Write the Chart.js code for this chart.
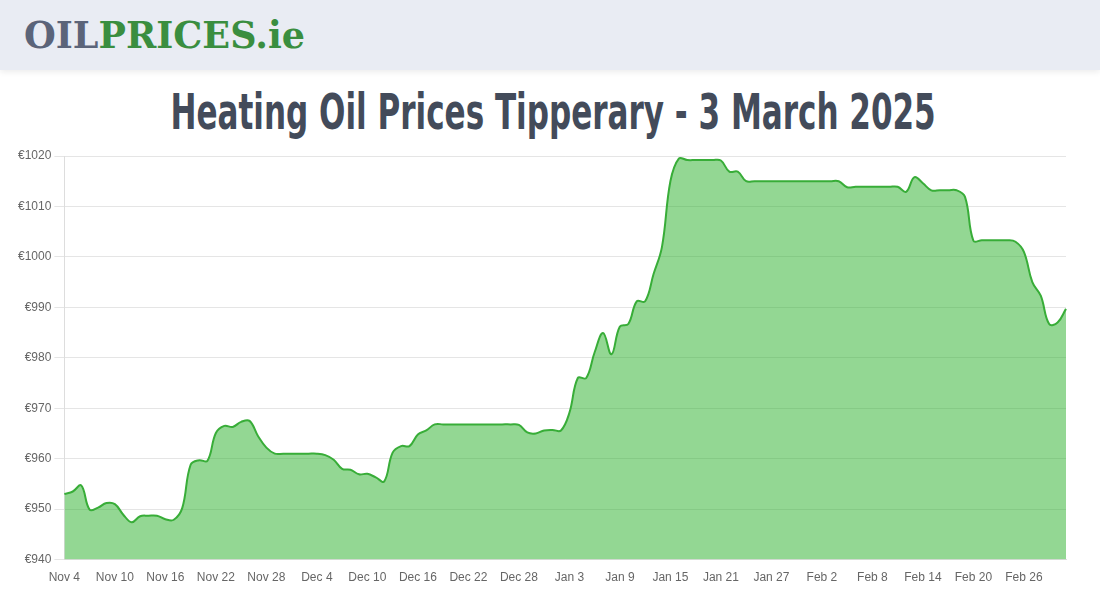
<!DOCTYPE html>
<html>
<head>
<meta charset="utf-8">
<script src="https://cdn.jsdelivr.net/npm/chart.js@4.4.1/dist/chart.umd.min.js"></script>
<style>
  body { margin: 0; width: 1100px; height: 600px; background: #fff; overflow: hidden; font-family: 'Liberation Sans', Arial, sans-serif; }
  .header { position: absolute; left: 0; top: 0; width: 1100px; height: 70px; background: #e9ecf3; box-shadow: 0 2px 6px rgba(0,0,0,0.08); }
  .logo { position: absolute; left: 24px; top: 12px; font-family: 'DejaVu Serif', serif; font-weight: bold; font-size: 38px; transform-origin: left top; transform: scaleX(0.96); white-space: nowrap; }
  .logo .oil { color: #5b6479; }
  .logo .prices { color: #3a8e3f; }
  h1 { position: absolute; left: 0; top: 83px; width: 1100px; margin: 0; text-align: center; font-family: 'DejaVu Sans Condensed', 'DejaVu Sans', sans-serif; font-weight: bold; font-size: 50px; color: #434b5a; transform: scaleX(0.69); transform-origin: center top; white-space: nowrap; }
  .wrap { position: absolute; left: 0; top: 140px; width: 1100px; height: 460px; }
</style>
</head>
<body>
<div class="header"><div class="logo"><span class="oil">OIL</span><span class="prices">PRICES.ie</span></div></div>
<h1>Heating Oil Prices Tipperary - 3 March 2025</h1>
<div class="wrap"><canvas id="myChart"></canvas></div>
<script>
// daily prices, 4 Nov 2024 .. 3 Mar 2025
var prices = [
  953, 953.5, 954.7, 949.9, 950.3, 951.2, 951, 948.9, 947.4, 948.6,
  948.7, 948.7, 948.0, 947.9, 950.2, 958.8, 959.7, 959.6, 965.1, 966.5,
  966.3, 967.3, 967.5, 964.5, 962.2, 961, 961, 961, 961, 961,
  961, 960.7, 959.8, 958, 957.8, 956.9, 957, 956.3, 955.5, 961.2,
  962.5, 962.5, 964.8, 965.6, 966.8, 966.8, 966.8, 966.8, 966.8, 966.8,
  966.8, 966.8, 966.8, 966.8, 966.7, 965.2, 965, 965.6, 965.7, 965.6,
  969.1, 976, 976, 981.1, 984.9, 980.7, 986.2, 986.7, 991.2, 991.2,
  996.6, 1002, 1015, 1019.5, 1019.2, 1019.2, 1019.2, 1019.2, 1019.1, 1016.9,
  1016.9, 1015, 1015, 1015, 1015, 1015, 1015, 1015, 1015, 1015,
  1015, 1015, 1015, 1013.8, 1013.9, 1013.9, 1013.9, 1013.9, 1013.9, 1013.9,
  1012.9, 1015.8, 1014.6, 1013.2, 1013.2, 1013.2, 1013.2, 1011.9, 1003.2, 1003.3,
  1003.3, 1003.3, 1003.3, 1003, 1001, 995, 992.3, 986.7, 987, 989.7
];

var months = ['Jan','Feb','Mar','Apr','May','Jun','Jul','Aug','Sep','Oct','Nov','Dec'];
var days = [];
var d = new Date(2024, 10, 4);
for (var i = 0; i < prices.length; i++) {
  days.push(months[d.getMonth()] + ' ' + d.getDate());
  d.setDate(d.getDate() + 1);
}

var yMin = 940, yMax = 1020, yStep = 10;

var ctx = document.getElementById('myChart');
var myChart = new Chart(ctx, {
  type: 'line',
  data: {
    labels: days,
    datasets: [{
      label: 'Price',
      data: prices,
      fill: true,
      borderColor: '#38ad38',
      backgroundColor: 'rgba(40,175,40,0.5)',
      borderWidth: 2,
      pointRadius: 0,
      tension: 0.4
    }]
  },
  options: {
    responsive: true,
    maintainAspectRatio: false,
    animation: false,
    layout: { padding: { left: 15, right: 34, top: 16, bottom: 12 } },
    plugins: { legend: { display: false }, tooltip: { enabled: false } },
    scales: {
      x: {
        grid: { display: false },
        border: { color: '#ddd' },
        ticks: {
          color: '#666', font: { size: 12 }, autoSkip: false, maxRotation: 0,
          callback: function (v, i) { return i % 6 === 0 ? days[i] : ''; }
        }
      },
      y: {
        min: yMin, max: yMax,
        grid: { color: 'rgba(0,0,0,0.1)', tickLength: 10 },
        border: { color: '#ddd' },
        ticks: {
          stepSize: yStep, color: '#666', font: { size: 12 },
          callback: function (v) { return '€' + v; }
        }
      }
    }
  }
});
</script>
</body>
</html>
